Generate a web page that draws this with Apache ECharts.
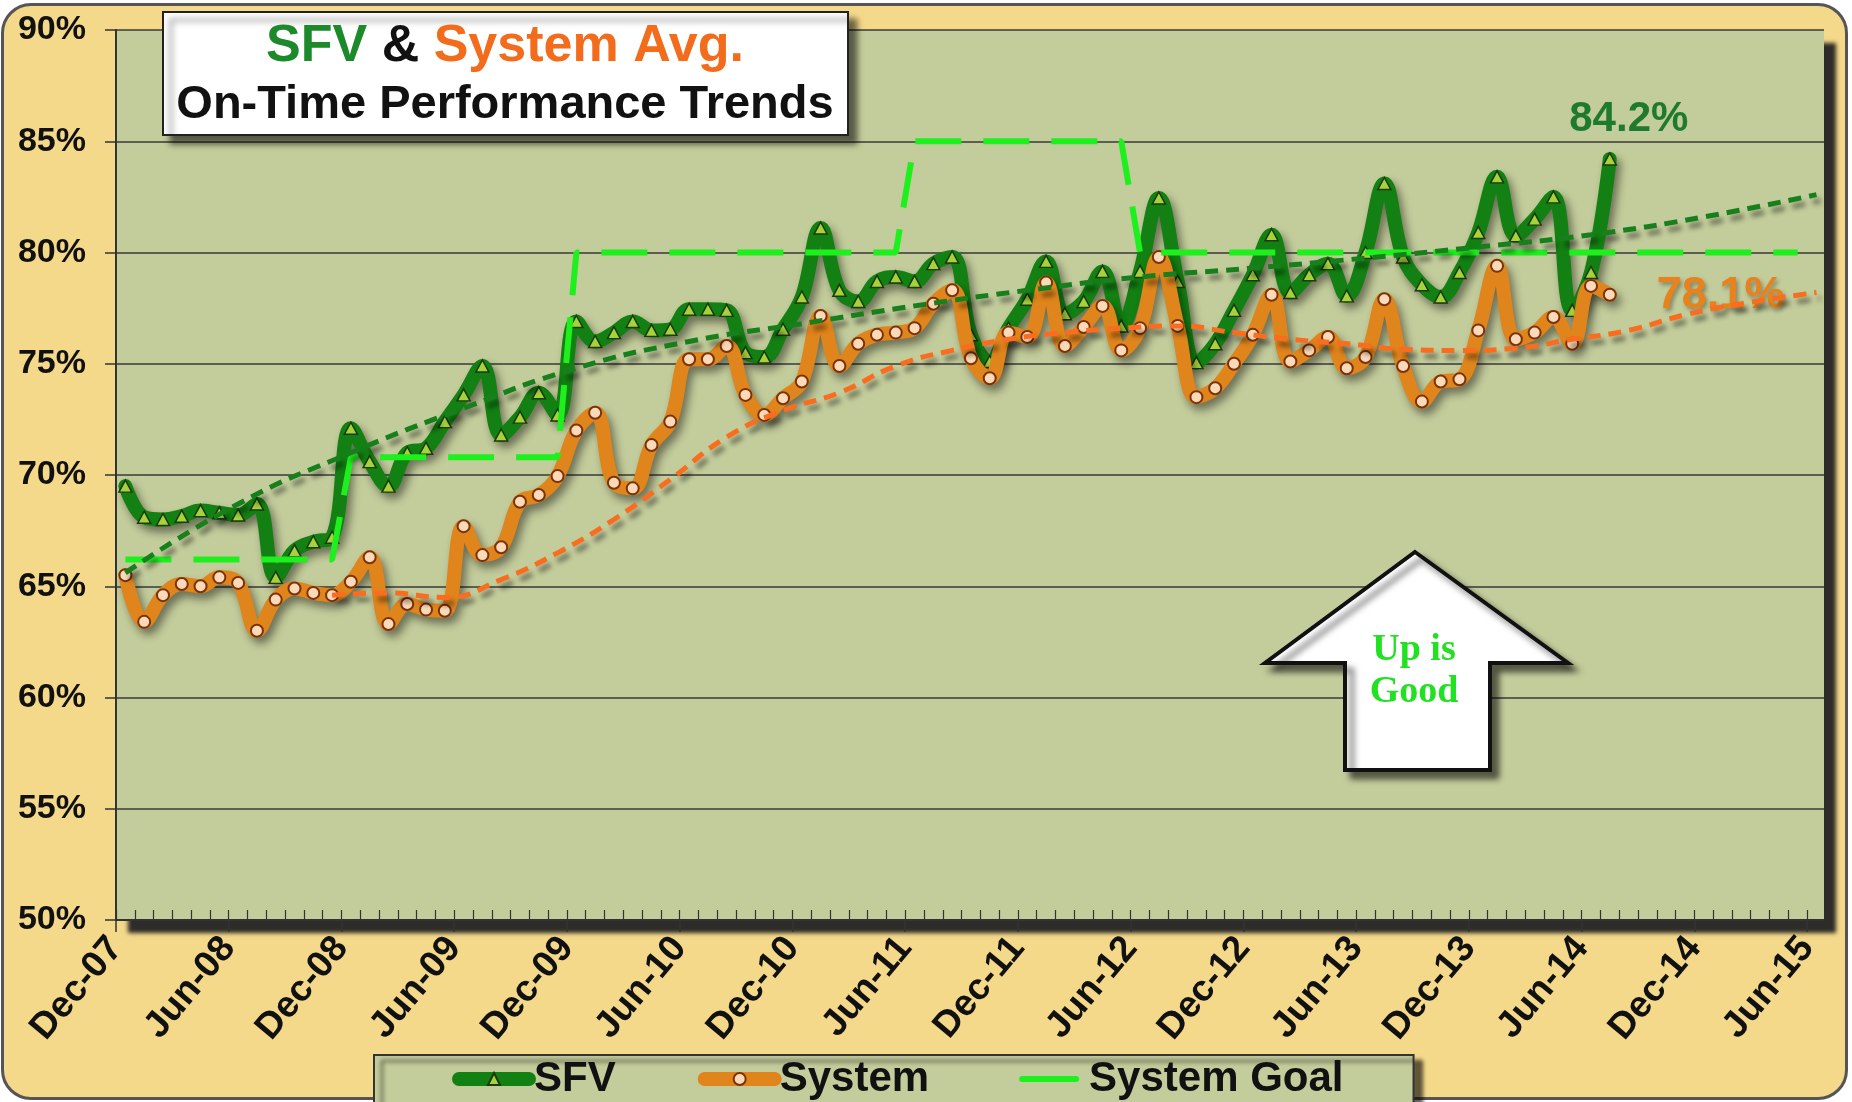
<!DOCTYPE html>
<html>
<head>
<meta charset="utf-8">
<title>SFV &amp; System Avg. On-Time Performance Trends</title>
<script src="https://cdn.jsdelivr.net/npm/echarts@6/dist/echarts.min.js"></script>
<style>
  html, body { margin: 0; padding: 0; width: 1852px; height: 1102px; overflow: hidden; background: #fff; }
  .frame {
    position: absolute; left: 1px; top: 3px; width: 1841px; height: 1091px;
    background: #f4d98b; border: 3px solid #555; border-radius: 30px;
  }
  #chart { position: absolute; left: 0; top: 0; width: 1852px; height: 1102px; }
</style>
</head>
<body>
<div class="frame"></div>
<div id="chart"></div>
<script>
// x axis: months counted from Dec-07, one tick label every 6 months
const tickLabels = ["Dec-07", "Jun-08", "Dec-08", "Jun-09", "Dec-09", "Jun-10", "Dec-10", "Jun-11",
    "Dec-11", "Jun-12", "Dec-12", "Jun-13", "Dec-13", "Jun-14", "Dec-14", "Jun-15"];

// monthly on-time %, Dec-07 .. Jul-14
const sfv = [
    69.5, 68.1, 68.0, 68.15, 68.4, 68.3, 68.2, 68.7, 65.4, 66.6, 67.0, 67.2,
    72.1, 70.6, 69.5, 71.0, 71.2, 72.4, 73.6, 74.9, 71.8, 72.6, 73.7, 72.7,
    76.9, 76.0, 76.4, 76.9, 76.5, 76.55, 77.45, 77.45, 77.4, 75.5, 75.3, 76.55,
    78.0, 81.1, 78.3, 77.8, 78.7, 78.9, 78.7, 79.5, 79.8, 76.3, 75.1, 76.6,
    77.9, 79.6, 77.25, 77.8, 79.15, 76.7, 79.15, 82.45, 78.7, 75.05, 75.9, 77.4,
    79.0, 80.8, 78.2, 79.0, 79.5, 78.05, 80.0, 83.1, 79.8, 78.55, 78.0, 79.1,
    80.9, 83.4, 80.75, 81.5, 82.5, 77.4, 79.1, 84.2
];
const system = [
    65.5, 63.4, 64.6, 65.1, 65.0, 65.4, 65.15, 63.0, 64.4, 64.9, 64.7, 64.6,
    65.2, 66.3, 63.3, 64.2, 63.95, 63.9, 67.7, 66.4, 66.75, 68.8, 69.1, 69.95,
    72.0, 72.8, 69.65, 69.4, 71.35, 72.4, 75.2, 75.2, 75.8, 73.6, 72.7, 73.45,
    74.2, 77.15, 74.9, 75.9, 76.3, 76.4, 76.6, 77.7, 78.3, 75.25, 74.35, 76.4,
    76.2, 78.65, 75.8, 76.65, 77.6, 75.6, 76.6, 79.8, 76.7, 73.5, 73.9, 75.0,
    76.3, 78.1, 75.1, 75.6, 76.2, 74.8, 75.3, 77.9, 74.9, 73.3, 74.2, 74.3,
    76.5, 79.4, 76.1, 76.4, 77.1, 75.9, 78.5, 78.1
];
// system goal, Dec-07 .. May-15
const goal = [
    66.2, 66.2, 66.2, 66.2, 66.2, 66.2, 66.2, 66.2, 66.2, 66.2, 66.2, 66.2,
    70.8, 70.8, 70.8, 70.8, 70.8, 70.8, 70.8, 70.8, 70.8, 70.8, 70.8, 70.8,
    80, 80, 80, 80, 80, 80, 80, 80, 80, 80, 80, 80, 80, 80, 80, 80, 80, 80,
    85, 85, 85, 85, 85, 85, 85, 85, 85, 85, 85, 85,
    80, 80, 80, 80, 80, 80, 80, 80, 80, 80, 80, 80, 80, 80, 80, 80, 80, 80,
    80, 80, 80, 80, 80, 80, 80, 80, 80, 80, 80, 80, 80, 80, 80, 80, 80, 80
];
// trend lines (month index -> %)
const sfvTrendMonths = [0, 6, 12, 18, 24, 30, 36, 42, 48, 54, 60, 66, 72, 78, 84, 90];
const sfvTrend = [65.6, 68.7, 71.0, 73.0, 74.8, 76.0, 76.8, 77.6, 78.3, 78.9, 79.3, 79.75, 80.25, 80.8, 81.6, 82.6];
const systemTrendMonths = [11, 14, 17, 20, 23, 26, 29, 32, 35, 38, 41, 44, 47, 50, 53, 56, 59, 62, 65, 68, 71, 74, 77, 80, 83, 86, 90];
const systemTrend = [64.6, 64.7, 64.5, 65.3, 66.5, 68.0, 69.8, 71.7, 72.9, 73.7, 74.9, 75.6, 76.1, 76.4, 76.6, 76.7, 76.4, 76.1, 75.9, 75.65, 75.6, 75.7, 76.1, 76.5, 77.2, 77.7, 78.2];

const FONT = '"Liberation Sans", Arial, sans-serif';
const lineShadow = { shadowColor: "rgba(0,0,0,0.45)", shadowBlur: 8, shadowOffsetX: 4, shadowOffsetY: 6 };

// points sit mid-month
const toPoints = (vals) => vals.map((v, i) => [i + 0.5, v]);
const sfvData = toPoints(sfv);
const systemData = toPoints(system);
const lastSfv = sfvData.length - 1;
sfvData[lastSfv] = {
    value: sfvData[lastSfv],
    label: {
        show: true, position: "top", distance: 12, offset: [19, 0],
        formatter: (p) => p.value[1].toFixed(1) + "%",
        fontFamily: FONT, fontSize: 42, fontWeight: "bold", color: "#1e7a2c",
    },
};
const lastSys = systemData.length - 1;
systemData[lastSys] = {
    value: systemData[lastSys],
    label: {
        show: true, position: "right", distance: 40, offset: [0, 1],
        formatter: (p) => p.value[1].toFixed(1) + "%",
        fontFamily: FONT, fontSize: 45, fontWeight: "bold", color: "#e8821c",
        textShadowColor: "rgba(0,0,0,0.35)", textShadowBlur: 4, textShadowOffsetX: 2, textShadowOffsetY: 3,
    },
};

const majorTicks = tickLabels.map((_, k) => k * 6);
const minorTicks = [];
for (let m = 0; m <= 90; m++) minorTicks.push(m);

const myChart = echarts.init(document.getElementById("chart"));
const option = {
    animation: false,
    backgroundColor: "transparent",
    textStyle: { fontFamily: FONT },
    grid: {
        left: 116, right: 28, top: 30, bottom: 182,
        show: true, backgroundColor: "#c3cc9b", borderWidth: 0,
        shadowColor: "rgba(35,35,35,0.95)", shadowBlur: 4, shadowOffsetX: 12, shadowOffsetY: 13,
    },
    legend: {
        left: 374, top: 1055,
        data: [
            "SFV",
            "System",
            {
                name: "System Goal",
                itemStyle: { opacity: 0 },
                lineStyle: { type: [54, 30], dashOffset: 76 },
            },
        ],
        selectedMode: false,
        itemWidth: 70, itemHeight: 15, itemGap: 82,
        padding: [3, 70, 8, 78],
        lineStyle: { width: "inherit", cap: "round" },
        backgroundColor: "#c3cc9b", borderColor: "#333", borderWidth: 2,
        shadowColor: "rgba(0,0,0,0.6)", shadowBlur: 4, shadowOffsetX: 8, shadowOffsetY: 6,
        textStyle: { fontFamily: FONT, fontSize: 42, fontWeight: "bold", color: "#111" },
    },
    xAxis: [
        {
            type: "value", min: 0, max: 90.9, interval: 6,
            axisLine: { show: true, onZero: false, lineStyle: { color: "#333", width: 2 } },
            axisTick: { show: true, length: 12, customValues: majorTicks, lineStyle: { color: "#333", width: 1.5 } },
            axisLabel: {
                customValues: majorTicks,
                rotate: 50, margin: 22,
                formatter: (v) => (v % 6 === 0 && tickLabels[v / 6]) || "",
                fontFamily: FONT, fontSize: 37, fontWeight: "bold", color: "#111",
            },
            splitLine: { show: false },
        },
        {
            type: "value", min: 0, max: 90.9, interval: 1, position: "bottom",
            axisLine: { show: false, onZero: false },
            axisTick: { show: true, inside: true, length: 10, customValues: minorTicks, lineStyle: { color: "#333", width: 1.2 } },
            axisLabel: { show: false },
            splitLine: { show: false },
        },
    ],
    yAxis: {
        type: "value", min: 50, max: 90, interval: 5,
        axisLine: { show: true, lineStyle: { color: "#333", width: 2 } },
        axisTick: { show: true, length: 11, lineStyle: { color: "#333", width: 1.5 } },
        axisLabel: {
            margin: 30,
            formatter: "{value}%",
            fontFamily: FONT, fontSize: 34, fontWeight: "bold", color: "#111",
        },
        splitLine: { show: true, lineStyle: { color: "#3a3a3a", width: 1.5 } },
    },
    series: [
        {
            name: "SFV",
            type: "line",
            data: sfvData,
            smooth: 0.4,
            symbol: "triangle",
            symbolSize: [13, 12],
            lineStyle: { color: "#128012", width: 14, cap: "round", join: "round", ...lineShadow },
            itemStyle: { color: "#a8d23c", borderColor: "#1c3a0c", borderWidth: 1.5 },
            z: 3,
        },
        {
            name: "System",
            type: "line",
            data: systemData,
            smooth: 0.4,
            symbol: "circle",
            symbolSize: 12,
            lineStyle: { color: "#e0841c", width: 14, cap: "round", join: "round", ...lineShadow },
            itemStyle: { color: "#fcd9b8", borderColor: "#7a3208", borderWidth: 2 },
            z: 4,
        },
        {
            name: "System Goal",
            type: "line",
            data: toPoints(goal),
            symbol: "none",
            lineStyle: { color: "#1ef01e", width: 6, type: [46, 22] },
            itemStyle: { color: "#1ef01e" },
            z: 5,
        },
        {
            name: "SFV trend",
            type: "line",
            data: sfvTrend.map((v, k) => [sfvTrendMonths[k] + 0.5, v]),
            smooth: true,
            symbol: "none",
            lineStyle: { color: "#17801d", width: 5, type: [13, 8], ...lineShadow, shadowBlur: 5 },
            z: 6,
        },
        {
            name: "System trend",
            type: "line",
            data: systemTrend.map((v, k) => [systemTrendMonths[k] + 0.5, v]),
            smooth: true,
            symbol: "none",
            lineStyle: { color: "#fa6c1e", width: 5, type: [13, 8], ...lineShadow, shadowBlur: 5 },
            z: 6,
        },
    ],
    graphic: [
        {
            type: "rect", z: 100,
            shape: { x: 163, y: 12, width: 685, height: 123 },
            style: {
                fill: "#fff", stroke: "#222", lineWidth: 2,
                shadowColor: "rgba(0,0,0,0.55)", shadowBlur: 6, shadowOffsetX: 8, shadowOffsetY: 8,
            },
        },
        {
            type: "text", z: 101, x: 505, y: 47,
            style: {
                text: "{g|SFV} & {o|System Avg.}",
                align: "center", verticalAlign: "middle",
                fontFamily: FONT, fontSize: 52, fontWeight: "bold", fill: "#111",
                rich: {
                    g: { fontFamily: FONT, fontSize: 52, fontWeight: "bold", fill: "#1c8a2a", color: "#1c8a2a" },
                    o: { fontFamily: FONT, fontSize: 52, fontWeight: "bold", fill: "#f26c1c", color: "#f26c1c" },
                },
            },
        },
        {
            type: "text", z: 101, x: 505, y: 105,
            style: {
                text: "On-Time Performance Trends",
                align: "center", verticalAlign: "middle",
                fontFamily: FONT, fontSize: 47, fontWeight: "bold", fill: "#111",
            },
        },
        {
            type: "polygon", z: 100,
            shape: { points: [[1415, 552], [1568, 663], [1490, 663], [1490, 770], [1345, 770], [1345, 663], [1265, 663]] },
            style: {
                fill: "#fff", stroke: "#111", lineWidth: 4, lineJoin: "miter",
                shadowColor: "rgba(0,0,0,0.55)", shadowBlur: 6, shadowOffsetX: 7, shadowOffsetY: 7,
            },
        },
        {
            type: "text", z: 101, x: 1414, y: 671,
            style: {
                text: "Up is\nGood",
                align: "center", verticalAlign: "middle", lineHeight: 42,
                fontFamily: '"Liberation Serif", "DejaVu Serif", serif', fontSize: 38, fontWeight: "bold", fill: "#22e022",
            },
        },
    ],
};
myChart.setOption(option);
</script>
</body>
</html>
